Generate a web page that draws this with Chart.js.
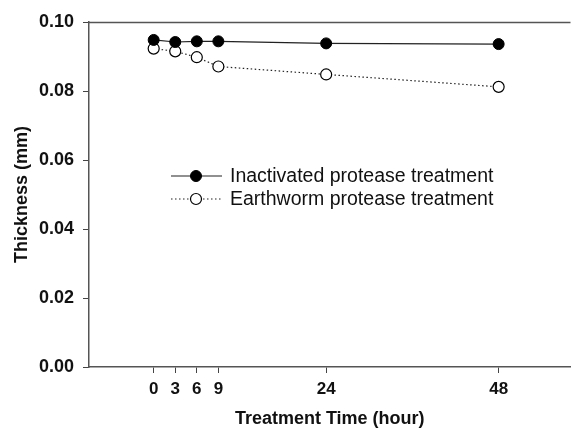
<!DOCTYPE html>
<html>
<head>
<meta charset="utf-8">
<script src="https://cdn.jsdelivr.net/npm/chart.js@4.4.0/dist/chart.umd.min.js"></script>
<style>
html,body{margin:0;padding:0;background:#fff;}
#wrap{width:571px;height:429px;position:relative;}
</style>
</head>
<body>
<div id="wrap"><canvas id="c" width="571" height="429"></canvas></div>
<script>
const hours = [0, 3, 6, 9, 24, 48];
const inactivated = [0.0948, 0.0942, 0.0944, 0.0944, 0.0938, 0.0936];
const earthworm = [0.0923, 0.0915, 0.0898, 0.0871, 0.0848, 0.0812];
const seriesNames = ['Inactivated protease treatment', 'Earthworm protease treatment'];
const yTicks = [0.00, 0.02, 0.04, 0.06, 0.08, 0.10];
const xTicks = [0, 3, 6, 9, 24, 48];

const FONT = "'Liberation Sans', Arial, sans-serif";

const toPts = (arr) => hours.map((h, i) => ({x: h, y: arr[i]}));

const frameAndLegend = {
  id: 'frameAndLegend',
  afterDatasetsDraw(chart) {
    const {ctx, chartArea: a} = chart;
    ctx.save();
    // top frame line
    ctx.strokeStyle = '#555';
    ctx.lineWidth = 1.5;
    ctx.beginPath();
    ctx.moveTo(a.left, a.top + 0.5);
    ctx.lineTo(a.right, a.top + 0.5);
    ctx.stroke();

    // legend inside plot
    const x0 = a.left + 82, x1 = a.left + 133, mx = a.left + 107, tx = a.left + 141;
    const rows = [a.top + 154, a.top + 177];
    chart.data.datasets.forEach((ds, i) => {
      const y = rows[i];
      ctx.strokeStyle = ds.borderColor;
      ctx.lineWidth = ds.borderWidth;
      ctx.setLineDash(ds.borderDash || []);
      ctx.beginPath();
      ctx.moveTo(x0, y);
      ctx.lineTo(x1, y);
      ctx.stroke();
      ctx.setLineDash([]);
      ctx.beginPath();
      ctx.arc(mx, y, ds.pointRadius, 0, Math.PI * 2);
      ctx.fillStyle = ds.pointBackgroundColor;
      ctx.fill();
      ctx.lineWidth = ds.pointBorderWidth;
      ctx.strokeStyle = ds.pointBorderColor;
      ctx.stroke();
      ctx.fillStyle = '#111';
      ctx.font = '19.5px ' + FONT;
      ctx.textBaseline = 'middle';
      ctx.textAlign = 'left';
      ctx.fillText(ds.label, tx, y + 1);
    });
    ctx.restore();
  }
};

new Chart(document.getElementById('c'), {
  type: 'scatter',
  data: {
    datasets: [
      {
        label: seriesNames[0],
        data: toPts(inactivated),
        showLine: true,
        borderColor: '#222',
        borderWidth: 1.2,
        pointRadius: 5.5,
        pointBackgroundColor: '#000',
        pointBorderColor: '#000',
        pointBorderWidth: 1,
        pointHoverRadius: 5.5
      },
      {
        label: seriesNames[1],
        data: toPts(earthworm),
        showLine: true,
        borderColor: '#222',
        borderWidth: 1.2,
        borderDash: [1.5, 2.5],
        pointRadius: 5.5,
        pointBackgroundColor: '#fff',
        pointBorderColor: '#000',
        pointBorderWidth: 1.2,
        pointHoverRadius: 5.5
      }
    ]
  },
  options: {
    responsive: false,
    animation: false,
    layout: {autoPadding: false, padding: {top: 22, right: 0.5, left: 0, bottom: 0}},
    plugins: {legend: {display: false}, tooltip: {enabled: false}},
    scales: {
      x: {
        type: 'linear',
        min: -9,
        max: 58,
        afterBuildTicks: (s) => { s.ticks = xTicks.map(v => ({value: v})); },
        afterFit: (s) => { s.height = 62; s.paddingRight = 0; s.paddingLeft = 0; },
        grid: {drawOnChartArea: false, drawTicks: true, tickLength: 6, color: '#444', lineWidth: 1},
        border: {display: true, color: '#555', width: 1.5},
        ticks: {font: {family: FONT, size: 17, weight: 'bold'}, color: '#111', padding: 6, maxRotation: 0},
        title: {display: true, text: 'Treatment Time (hour)', font: {family: FONT, size: 18, weight: 'bold'}, color: '#111', padding: {top: 4, bottom: -1}}
      },
      y: {
        min: 0,
        max: 0.10,
        afterBuildTicks: (s) => { s.ticks = yTicks.map(v => ({value: v})); },
        afterFit: (s) => { s.width = 89; },
        grid: {drawOnChartArea: false, drawTicks: true, tickLength: 6, color: '#444', lineWidth: 1},
        border: {display: true, color: '#555', width: 1.5},
        ticks: {font: {family: FONT, size: 18, weight: 'bold'}, color: '#111', padding: 9, callback: (v) => v.toFixed(2)},
        title: {display: true, text: 'Thickness (mm)', font: {family: FONT, size: 18, weight: 'bold'}, color: '#111', padding: {top: 11, bottom: 0}}
      }
    }
  },
  plugins: [frameAndLegend]
});
</script>
</body>
</html>
